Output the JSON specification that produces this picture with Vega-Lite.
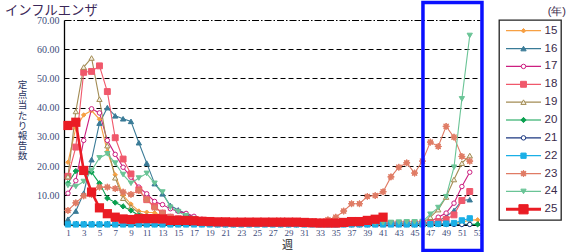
{
"$schema":"https://vega.github.io/schema/vega-lite/v6.json",
"padding":{"left":5,"top":0,"right":0,"bottom":0},
"background":"white",
"bounds":"flush",
"spacing":19,
"config":{"view":{"stroke":null},"axis":{"labelFont":"Liberation Serif","titleFont":"Noto Sans CJK JP","labelOverlap":false},"axisY":{"titleAngle":0},"text":{"font":"Liberation Sans"}},
"datasets":{
"flu":[
{"year":"15","week":1,"rate":21.3},{"year":"15","week":2,"rate":33},{"year":"15","week":3,"rate":37.5},{"year":"15","week":4,"rate":39},{"year":"15","week":5,"rate":36},{"year":"15","week":6,"rate":25},{"year":"15","week":7,"rate":17},{"year":"15","week":8,"rate":10},{"year":"15","week":9,"rate":7},{"year":"15","week":10,"rate":4.6},{"year":"15","week":11,"rate":4.2},{"year":"15","week":12,"rate":4.0},{"year":"15","week":13,"rate":3.0},{"year":"15","week":14,"rate":2.0},{"year":"15","week":15,"rate":1.5},{"year":"15","week":16,"rate":1.0},{"year":"15","week":17,"rate":0.7},{"year":"15","week":18,"rate":0.5},{"year":"15","week":19,"rate":0.4},{"year":"15","week":20,"rate":0.3},{"year":"15","week":21,"rate":0.2},{"year":"15","week":22,"rate":0.2},{"year":"15","week":23,"rate":0.2},{"year":"15","week":24,"rate":0.2},{"year":"15","week":25,"rate":0.2},{"year":"15","week":26,"rate":0.2},{"year":"15","week":27,"rate":0.2},{"year":"15","week":28,"rate":0.2},{"year":"15","week":29,"rate":0.2},{"year":"15","week":30,"rate":0.2},{"year":"15","week":31,"rate":0.2},{"year":"15","week":32,"rate":0.2},{"year":"15","week":33,"rate":0.2},{"year":"15","week":34,"rate":0.2},{"year":"15","week":35,"rate":0.2},{"year":"15","week":36,"rate":0.2},{"year":"15","week":37,"rate":0.2},{"year":"15","week":38,"rate":0.2},{"year":"15","week":39,"rate":0.2},{"year":"15","week":40,"rate":0.2},{"year":"15","week":41,"rate":0.2},{"year":"15","week":42,"rate":0.2},{"year":"15","week":43,"rate":0.2},{"year":"15","week":44,"rate":0.2},{"year":"15","week":45,"rate":0.2},{"year":"15","week":46,"rate":0.2},{"year":"15","week":47,"rate":0.2},{"year":"15","week":48,"rate":0.3},{"year":"15","week":49,"rate":0.3},{"year":"15","week":50,"rate":0.4},{"year":"15","week":51,"rate":0.8},{"year":"15","week":52,"rate":1.5},{"year":"15","week":53,"rate":1.6},
{"year":"16","week":1,"rate":1.8},{"year":"16","week":2,"rate":4.6},{"year":"16","week":3,"rate":10.7},{"year":"16","week":4,"rate":22.2},{"year":"16","week":5,"rate":34.7},{"year":"16","week":6,"rate":40},{"year":"16","week":7,"rate":37.2},{"year":"16","week":8,"rate":36.2},{"year":"16","week":9,"rate":35.3},{"year":"16","week":10,"rate":28},{"year":"16","week":11,"rate":21},{"year":"16","week":12,"rate":14},{"year":"16","week":13,"rate":10.5},{"year":"16","week":14,"rate":6.5},{"year":"16","week":15,"rate":5.0},{"year":"16","week":16,"rate":3.8},{"year":"16","week":17,"rate":2.5},{"year":"16","week":18,"rate":1.6},{"year":"16","week":19,"rate":1.0},{"year":"16","week":20,"rate":0.7},{"year":"16","week":21,"rate":0.5},{"year":"16","week":22,"rate":0.4},{"year":"16","week":23,"rate":0.2},{"year":"16","week":24,"rate":0.2},{"year":"16","week":25,"rate":0.2},{"year":"16","week":26,"rate":0.2},{"year":"16","week":27,"rate":0.2},{"year":"16","week":28,"rate":0.2},{"year":"16","week":29,"rate":0.2},{"year":"16","week":30,"rate":0.2},{"year":"16","week":31,"rate":0.2},{"year":"16","week":32,"rate":0.2},{"year":"16","week":33,"rate":0.2},{"year":"16","week":34,"rate":0.2},{"year":"16","week":35,"rate":0.2},{"year":"16","week":36,"rate":0.2},{"year":"16","week":37,"rate":0.2},{"year":"16","week":38,"rate":0.2},{"year":"16","week":39,"rate":0.2},{"year":"16","week":40,"rate":0.2},{"year":"16","week":41,"rate":0.2},{"year":"16","week":42,"rate":0.2},{"year":"16","week":43,"rate":0.2},{"year":"16","week":44,"rate":0.2},{"year":"16","week":45,"rate":0.2},{"year":"16","week":46,"rate":0.3},{"year":"16","week":47,"rate":0.6},{"year":"16","week":48,"rate":1.2},{"year":"16","week":49,"rate":2.7},{"year":"16","week":50,"rate":4.8},{"year":"16","week":51,"rate":8.2},{"year":"16","week":52,"rate":8.5},
{"year":"17","week":1,"rate":10.7},{"year":"17","week":2,"rate":15},{"year":"17","week":3,"rate":28.8},{"year":"17","week":4,"rate":39.6},{"year":"17","week":5,"rate":38.2},{"year":"17","week":6,"rate":28.8},{"year":"17","week":7,"rate":24},{"year":"17","week":8,"rate":19.6},{"year":"17","week":9,"rate":16.2},{"year":"17","week":10,"rate":12.8},{"year":"17","week":11,"rate":10.5},{"year":"17","week":12,"rate":7.9},{"year":"17","week":13,"rate":6.8},{"year":"17","week":14,"rate":5.4},{"year":"17","week":15,"rate":4.5},{"year":"17","week":16,"rate":3.8},{"year":"17","week":17,"rate":2.8},{"year":"17","week":18,"rate":1.8},{"year":"17","week":19,"rate":1.0},{"year":"17","week":20,"rate":0.7},{"year":"17","week":21,"rate":0.5},{"year":"17","week":22,"rate":0.3},{"year":"17","week":23,"rate":0.3},{"year":"17","week":24,"rate":0.3},{"year":"17","week":25,"rate":0.3},{"year":"17","week":26,"rate":0.3},{"year":"17","week":27,"rate":0.3},{"year":"17","week":28,"rate":0.3},{"year":"17","week":29,"rate":0.3},{"year":"17","week":30,"rate":0.3},{"year":"17","week":31,"rate":0.3},{"year":"17","week":32,"rate":0.3},{"year":"17","week":33,"rate":0.3},{"year":"17","week":34,"rate":0.3},{"year":"17","week":35,"rate":0.3},{"year":"17","week":36,"rate":0.3},{"year":"17","week":37,"rate":0.3},{"year":"17","week":38,"rate":0.3},{"year":"17","week":39,"rate":0.3},{"year":"17","week":40,"rate":0.3},{"year":"17","week":41,"rate":0.3},{"year":"17","week":42,"rate":0.3},{"year":"17","week":43,"rate":0.3},{"year":"17","week":44,"rate":0.3},{"year":"17","week":45,"rate":0.3},{"year":"17","week":46,"rate":0.5},{"year":"17","week":47,"rate":1.0},{"year":"17","week":48,"rate":2.5},{"year":"17","week":49,"rate":3.9},{"year":"17","week":50,"rate":7.3},{"year":"17","week":51,"rate":13},{"year":"17","week":52,"rate":17.9},
{"year":"18","week":1,"rate":16.5},{"year":"18","week":2,"rate":26.5},{"year":"18","week":3,"rate":52.1},{"year":"18","week":4,"rate":52.4},{"year":"18","week":5,"rate":54.3},{"year":"18","week":6,"rate":45.5},{"year":"18","week":7,"rate":29.7},{"year":"18","week":8,"rate":22.4},{"year":"18","week":9,"rate":17.3},{"year":"18","week":10,"rate":11.9},{"year":"18","week":11,"rate":8.5},{"year":"18","week":12,"rate":6.2},{"year":"18","week":13,"rate":3.9},{"year":"18","week":14,"rate":2.5},{"year":"18","week":15,"rate":2.0},{"year":"18","week":16,"rate":1.5},{"year":"18","week":17,"rate":1.0},{"year":"18","week":18,"rate":0.7},{"year":"18","week":19,"rate":0.5},{"year":"18","week":20,"rate":0.3},{"year":"18","week":21,"rate":0.3},{"year":"18","week":22,"rate":0.3},{"year":"18","week":23,"rate":0.3},{"year":"18","week":24,"rate":0.3},{"year":"18","week":25,"rate":0.3},{"year":"18","week":26,"rate":0.3},{"year":"18","week":27,"rate":0.3},{"year":"18","week":28,"rate":0.3},{"year":"18","week":29,"rate":0.3},{"year":"18","week":30,"rate":0.3},{"year":"18","week":31,"rate":0.3},{"year":"18","week":32,"rate":0.3},{"year":"18","week":33,"rate":0.3},{"year":"18","week":34,"rate":0.3},{"year":"18","week":35,"rate":0.3},{"year":"18","week":36,"rate":0.3},{"year":"18","week":37,"rate":0.3},{"year":"18","week":38,"rate":0.3},{"year":"18","week":39,"rate":0.3},{"year":"18","week":40,"rate":0.3},{"year":"18","week":41,"rate":0.3},{"year":"18","week":42,"rate":0.3},{"year":"18","week":43,"rate":0.3},{"year":"18","week":44,"rate":0.3},{"year":"18","week":45,"rate":0.3},{"year":"18","week":46,"rate":0.3},{"year":"18","week":47,"rate":0.5},{"year":"18","week":48,"rate":1.0},{"year":"18","week":49,"rate":1.7},{"year":"18","week":50,"rate":3.3},{"year":"18","week":51,"rate":8.2},{"year":"18","week":52,"rate":11.3},
{"year":"19","week":1,"rate":16.4},{"year":"19","week":2,"rate":38.7},{"year":"19","week":3,"rate":53.9},{"year":"19","week":4,"rate":57},{"year":"19","week":5,"rate":42.9},{"year":"19","week":6,"rate":27},{"year":"19","week":7,"rate":16},{"year":"19","week":8,"rate":9},{"year":"19","week":9,"rate":6},{"year":"19","week":10,"rate":4},{"year":"19","week":11,"rate":3},{"year":"19","week":12,"rate":2.5},{"year":"19","week":13,"rate":2},{"year":"19","week":14,"rate":1.5},{"year":"19","week":15,"rate":1},{"year":"19","week":16,"rate":0.7},{"year":"19","week":17,"rate":0.5},{"year":"19","week":18,"rate":0.3},{"year":"19","week":19,"rate":0.3},{"year":"19","week":20,"rate":0.3},{"year":"19","week":21,"rate":0.3},{"year":"19","week":22,"rate":0.3},{"year":"19","week":23,"rate":0.3},{"year":"19","week":24,"rate":0.3},{"year":"19","week":25,"rate":0.3},{"year":"19","week":26,"rate":0.3},{"year":"19","week":27,"rate":0.3},{"year":"19","week":28,"rate":0.3},{"year":"19","week":29,"rate":0.3},{"year":"19","week":30,"rate":0.3},{"year":"19","week":31,"rate":0.3},{"year":"19","week":32,"rate":0.3},{"year":"19","week":33,"rate":0.3},{"year":"19","week":34,"rate":0.3},{"year":"19","week":35,"rate":0.3},{"year":"19","week":36,"rate":0.3},{"year":"19","week":37,"rate":0.3},{"year":"19","week":38,"rate":0.3},{"year":"19","week":39,"rate":0.3},{"year":"19","week":40,"rate":0.3},{"year":"19","week":41,"rate":0.3},{"year":"19","week":42,"rate":0.3},{"year":"19","week":43,"rate":0.3},{"year":"19","week":44,"rate":0.3},{"year":"19","week":45,"rate":0.3},{"year":"19","week":46,"rate":0.5},{"year":"19","week":47,"rate":2.5},{"year":"19","week":48,"rate":5.1},{"year":"19","week":49,"rate":9.4},{"year":"19","week":50,"rate":15.4},{"year":"19","week":51,"rate":21},{"year":"19","week":52,"rate":23.6},
{"year":"20","week":1,"rate":14.1},{"year":"20","week":2,"rate":18.3},{"year":"20","week":3,"rate":18.5},{"year":"20","week":4,"rate":17.9},{"year":"20","week":5,"rate":14.1},{"year":"20","week":6,"rate":9},{"year":"20","week":7,"rate":7.5},{"year":"20","week":8,"rate":6.2},{"year":"20","week":9,"rate":4.8},{"year":"20","week":10,"rate":3.1},{"year":"20","week":11,"rate":2.5},{"year":"20","week":12,"rate":2.0},{"year":"20","week":13,"rate":1.2},{"year":"20","week":14,"rate":0.8},{"year":"20","week":15,"rate":0.5},{"year":"20","week":16,"rate":0.3},{"year":"20","week":17,"rate":0.05},{"year":"20","week":18,"rate":0.05},{"year":"20","week":19,"rate":0.05},{"year":"20","week":20,"rate":0.05},{"year":"20","week":21,"rate":0.05},{"year":"20","week":22,"rate":0.05},{"year":"20","week":23,"rate":0.05},{"year":"20","week":24,"rate":0.05},{"year":"20","week":25,"rate":0.05},{"year":"20","week":26,"rate":0.05},{"year":"20","week":27,"rate":0.05},{"year":"20","week":28,"rate":0.05},{"year":"20","week":29,"rate":0.05},{"year":"20","week":30,"rate":0.05},{"year":"20","week":31,"rate":0.05},{"year":"20","week":32,"rate":0.05},{"year":"20","week":33,"rate":0.05},{"year":"20","week":34,"rate":0.05},{"year":"20","week":35,"rate":0.05},{"year":"20","week":36,"rate":0.05},{"year":"20","week":37,"rate":0.05},{"year":"20","week":38,"rate":0.05},{"year":"20","week":39,"rate":0.05},{"year":"20","week":40,"rate":0.05},{"year":"20","week":41,"rate":0.05},{"year":"20","week":42,"rate":0.05},{"year":"20","week":43,"rate":0.05},{"year":"20","week":44,"rate":0.05},{"year":"20","week":45,"rate":0.05},{"year":"20","week":46,"rate":0.05},{"year":"20","week":47,"rate":0.05},{"year":"20","week":48,"rate":0.05},{"year":"20","week":49,"rate":0.05},{"year":"20","week":50,"rate":0.05},{"year":"20","week":51,"rate":0.05},{"year":"20","week":52,"rate":0.05},{"year":"20","week":53,"rate":0.05},
{"year":"21","week":1,"rate":0.02},{"year":"21","week":2,"rate":0.02},{"year":"21","week":3,"rate":0.02},{"year":"21","week":4,"rate":0.02},{"year":"21","week":5,"rate":0.02},{"year":"21","week":6,"rate":0.02},{"year":"21","week":7,"rate":0.02},{"year":"21","week":8,"rate":0.02},{"year":"21","week":9,"rate":0.02},{"year":"21","week":10,"rate":0.02},{"year":"21","week":11,"rate":0.02},{"year":"21","week":12,"rate":0.02},{"year":"21","week":13,"rate":0.02},{"year":"21","week":14,"rate":0.02},{"year":"21","week":15,"rate":0.02},{"year":"21","week":16,"rate":0.02},{"year":"21","week":17,"rate":0.02},{"year":"21","week":18,"rate":0.02},{"year":"21","week":19,"rate":0.02},{"year":"21","week":20,"rate":0.02},{"year":"21","week":21,"rate":0.02},{"year":"21","week":22,"rate":0.02},{"year":"21","week":23,"rate":0.02},{"year":"21","week":24,"rate":0.02},{"year":"21","week":25,"rate":0.02},{"year":"21","week":26,"rate":0.02},{"year":"21","week":27,"rate":0.02},{"year":"21","week":28,"rate":0.02},{"year":"21","week":29,"rate":0.02},{"year":"21","week":30,"rate":0.02},{"year":"21","week":31,"rate":0.02},{"year":"21","week":32,"rate":0.02},{"year":"21","week":33,"rate":0.02},{"year":"21","week":34,"rate":0.02},{"year":"21","week":35,"rate":0.02},{"year":"21","week":36,"rate":0.02},{"year":"21","week":37,"rate":0.02},{"year":"21","week":38,"rate":0.02},{"year":"21","week":39,"rate":0.02},{"year":"21","week":40,"rate":0.02},{"year":"21","week":41,"rate":0.02},{"year":"21","week":42,"rate":0.02},{"year":"21","week":43,"rate":0.02},{"year":"21","week":44,"rate":0.02},{"year":"21","week":45,"rate":0.02},{"year":"21","week":46,"rate":0.02},{"year":"21","week":47,"rate":0.02},{"year":"21","week":48,"rate":0.02},{"year":"21","week":49,"rate":0.02},{"year":"21","week":50,"rate":0.02},{"year":"21","week":51,"rate":0.02},{"year":"21","week":52,"rate":0.02},
{"year":"22","week":1,"rate":0.03},{"year":"22","week":2,"rate":0.03},{"year":"22","week":3,"rate":0.03},{"year":"22","week":4,"rate":0.03},{"year":"22","week":5,"rate":0.03},{"year":"22","week":6,"rate":0.03},{"year":"22","week":7,"rate":0.03},{"year":"22","week":8,"rate":0.03},{"year":"22","week":9,"rate":0.03},{"year":"22","week":10,"rate":0.03},{"year":"22","week":11,"rate":0.03},{"year":"22","week":12,"rate":0.03},{"year":"22","week":13,"rate":0.03},{"year":"22","week":14,"rate":0.03},{"year":"22","week":15,"rate":0.03},{"year":"22","week":16,"rate":0.03},{"year":"22","week":17,"rate":0.03},{"year":"22","week":18,"rate":0.03},{"year":"22","week":19,"rate":0.03},{"year":"22","week":20,"rate":0.03},{"year":"22","week":21,"rate":0.03},{"year":"22","week":22,"rate":0.03},{"year":"22","week":23,"rate":0.03},{"year":"22","week":24,"rate":0.03},{"year":"22","week":25,"rate":0.03},{"year":"22","week":26,"rate":0.03},{"year":"22","week":27,"rate":0.03},{"year":"22","week":28,"rate":0.03},{"year":"22","week":29,"rate":0.03},{"year":"22","week":30,"rate":0.03},{"year":"22","week":31,"rate":0.03},{"year":"22","week":32,"rate":0.03},{"year":"22","week":33,"rate":0.03},{"year":"22","week":34,"rate":0.03},{"year":"22","week":35,"rate":0.03},{"year":"22","week":36,"rate":0.03},{"year":"22","week":37,"rate":0.03},{"year":"22","week":38,"rate":0.03},{"year":"22","week":39,"rate":0.03},{"year":"22","week":40,"rate":0.03},{"year":"22","week":41,"rate":0.03},{"year":"22","week":42,"rate":0.03},{"year":"22","week":43,"rate":0.03},{"year":"22","week":44,"rate":0.03},{"year":"22","week":45,"rate":0.03},{"year":"22","week":46,"rate":0.05},{"year":"22","week":47,"rate":0.1},{"year":"22","week":48,"rate":0.2},{"year":"22","week":49,"rate":0.3},{"year":"22","week":50,"rate":0.5},{"year":"22","week":51,"rate":1.4},{"year":"22","week":52,"rate":2.1},
{"year":"23","week":1,"rate":4.8},{"year":"23","week":2,"rate":7.4},{"year":"23","week":3,"rate":9.8},{"year":"23","week":4,"rate":10.2},{"year":"23","week":5,"rate":12.8},{"year":"23","week":6,"rate":12.8},{"year":"23","week":7,"rate":12.3},{"year":"23","week":8,"rate":11.1},{"year":"23","week":9,"rate":10.3},{"year":"23","week":10,"rate":11.6},{"year":"23","week":11,"rate":8.5},{"year":"23","week":12,"rate":5.7},{"year":"23","week":13,"rate":3.9},{"year":"23","week":14,"rate":2.5},{"year":"23","week":15,"rate":2.0},{"year":"23","week":16,"rate":1.5},{"year":"23","week":17,"rate":1.2},{"year":"23","week":18,"rate":1.1},{"year":"23","week":19,"rate":1.1},{"year":"23","week":20,"rate":1.1},{"year":"23","week":21,"rate":1.1},{"year":"23","week":22,"rate":1.1},{"year":"23","week":23,"rate":1.0},{"year":"23","week":24,"rate":1.0},{"year":"23","week":25,"rate":1.0},{"year":"23","week":26,"rate":1.0},{"year":"23","week":27,"rate":1.1},{"year":"23","week":28,"rate":1.2},{"year":"23","week":29,"rate":1.1},{"year":"23","week":30,"rate":1.1},{"year":"23","week":31,"rate":1.0},{"year":"23","week":32,"rate":0.9},{"year":"23","week":33,"rate":0.9},{"year":"23","week":34,"rate":1.6},{"year":"23","week":35,"rate":2.5},{"year":"23","week":36,"rate":4.6},{"year":"23","week":37,"rate":7.1},{"year":"23","week":38,"rate":7.1},{"year":"23","week":39,"rate":9.6},{"year":"23","week":40,"rate":9.9},{"year":"23","week":41,"rate":11.2},{"year":"23","week":42,"rate":16.3},{"year":"23","week":43,"rate":19.6},{"year":"23","week":44,"rate":21.1},{"year":"23","week":45,"rate":17.6},{"year":"23","week":46,"rate":21.7},{"year":"23","week":47,"rate":28.2},{"year":"23","week":48,"rate":26.7},{"year":"23","week":49,"rate":33.6},{"year":"23","week":50,"rate":29.9},{"year":"23","week":51,"rate":23.3},{"year":"23","week":52,"rate":21.7},
{"year":"24","week":1,"rate":13.4},{"year":"24","week":2,"rate":13},{"year":"24","week":3,"rate":14.7},{"year":"24","week":4,"rate":18.5},{"year":"24","week":5,"rate":22.8},{"year":"24","week":6,"rate":24.2},{"year":"24","week":7,"rate":21},{"year":"24","week":8,"rate":17.1},{"year":"24","week":9,"rate":14.1},{"year":"24","week":10,"rate":15.9},{"year":"24","week":11,"rate":17.5},{"year":"24","week":12,"rate":14.1},{"year":"24","week":13,"rate":11.1},{"year":"24","week":14,"rate":5.9},{"year":"24","week":15,"rate":4.4},{"year":"24","week":16,"rate":3.0},{"year":"24","week":17,"rate":2.0},{"year":"24","week":18,"rate":1.3},{"year":"24","week":19,"rate":1.0},{"year":"24","week":20,"rate":0.9},{"year":"24","week":21,"rate":0.8},{"year":"24","week":22,"rate":0.7},{"year":"24","week":23,"rate":0.6},{"year":"24","week":24,"rate":0.6},{"year":"24","week":25,"rate":0.6},{"year":"24","week":26,"rate":0.6},{"year":"24","week":27,"rate":0.6},{"year":"24","week":28,"rate":0.6},{"year":"24","week":29,"rate":0.6},{"year":"24","week":30,"rate":0.6},{"year":"24","week":31,"rate":0.6},{"year":"24","week":32,"rate":0.6},{"year":"24","week":33,"rate":0.6},{"year":"24","week":34,"rate":0.6},{"year":"24","week":35,"rate":0.6},{"year":"24","week":36,"rate":0.6},{"year":"24","week":37,"rate":0.6},{"year":"24","week":38,"rate":0.6},{"year":"24","week":39,"rate":0.6},{"year":"24","week":40,"rate":0.6},{"year":"24","week":41,"rate":0.6},{"year":"24","week":42,"rate":0.7},{"year":"24","week":43,"rate":0.8},{"year":"24","week":44,"rate":0.9},{"year":"24","week":45,"rate":0.9},{"year":"24","week":46,"rate":1.0},{"year":"24","week":47,"rate":3.5},{"year":"24","week":48,"rate":5.8},{"year":"24","week":49,"rate":9.5},{"year":"24","week":50,"rate":19.6},{"year":"24","week":51,"rate":43},{"year":"24","week":52,"rate":64.7},
{"year":"25","week":1,"rate":33.9},{"year":"25","week":2,"rate":35},{"year":"25","week":3,"rate":18.5},{"year":"25","week":4,"rate":11.1},{"year":"25","week":5,"rate":5.7},{"year":"25","week":6,"rate":3.7},{"year":"25","week":7,"rate":2.5},{"year":"25","week":8,"rate":1.9},{"year":"25","week":9,"rate":1.7},{"year":"25","week":10,"rate":2.0},{"year":"25","week":11,"rate":2.0},{"year":"25","week":12,"rate":2.0},{"year":"25","week":13,"rate":1.9},{"year":"25","week":14,"rate":1.4},{"year":"25","week":15,"rate":1.4},{"year":"25","week":16,"rate":1.4},{"year":"25","week":17,"rate":1.3},{"year":"25","week":18,"rate":1.1},{"year":"25","week":19,"rate":1.0},{"year":"25","week":20,"rate":0.9},{"year":"25","week":21,"rate":0.9},{"year":"25","week":22,"rate":0.8},{"year":"25","week":23,"rate":0.8},{"year":"25","week":24,"rate":0.8},{"year":"25","week":25,"rate":0.8},{"year":"25","week":26,"rate":0.8},{"year":"25","week":27,"rate":0.8},{"year":"25","week":28,"rate":0.8},{"year":"25","week":29,"rate":0.8},{"year":"25","week":30,"rate":0.8},{"year":"25","week":31,"rate":0.7},{"year":"25","week":32,"rate":0.6},{"year":"25","week":33,"rate":0.5},{"year":"25","week":34,"rate":0.5},{"year":"25","week":35,"rate":0.5},{"year":"25","week":36,"rate":0.7},{"year":"25","week":37,"rate":1.0},{"year":"25","week":38,"rate":1.0},{"year":"25","week":39,"rate":1.4},{"year":"25","week":40,"rate":1.8},{"year":"25","week":41,"rate":2.5}
],
"years":[{"year":"15"},{"year":"16"},{"year":"17"},{"year":"18"},{"year":"19"},{"year":"20"},{"year":"21"},{"year":"22"},{"year":"23"},{"year":"24"},{"year":"25"}]
},
"hconcat":[
{
"width":416,"height":204.5,
"title":{"text":"インフルエンザ","anchor":"start","frame":"group","dx":-59,"offset":-16.5,"font":"Noto Sans CJK JP","fontSize":13.3,"fontWeight":"normal","color":"#3b2758"},
"data":{"name":"flu"},
"layer":[
{"transform":[{"filter":"datum.year !== '25'"}],
"mark":{"type":"line","strokeWidth":1.1},
"encoding":{
"x":{"field":"week","type":"quantitative","scale":{"domain":[0.5,53.3],"nice":false,"zero":false},
"axis":{"values":[1,2,3,4,5,6,7,8,9,10,11,12,13,14,15,16,17,18,19,20,21,22,23,24,25,26,27,28,29,30,31,32,33,34,35,36,37,38,39,40,41,42,43,44,45,46,47,48,49,50,51,52,53],"tickCount":100,
"labelExpr":"datum.value % 2 === 1 ? format(datum.value, 'd') : ''","labelOverlap":false,"labelFlush":false,"labelBound":false,"grid":false,
"domainColor":"#000","domainWidth":1.3,"tickColor":"#000","tickSize":-4,"tickWidth":1,"labelPadding":8,
"labelFontSize":9,"labelColor":"#3d4c7a",
"title":"週","titleFontSize":11,"titleFontWeight":"normal","titleColor":"#222","titleX":223,"titleY":21,"titleAlign":"center","titleBaseline":"middle"}},
"y":{"field":"rate","type":"quantitative","scale":{"domain":[0,70],"nice":false},
"axis":{"values":[0,10,20,30,40,50,60,70],"tickCount":20,"labelExpr":"datum.value === 0 ? '' : format(datum.value, '.2f')","labelOverlap":false,"labelBound":false,
"grid":true,"gridColor":"#000","gridWidth":1.2,"gridDash":{"condition":{"test":"datum.value === 70","value":[7,2,1.5,2]},"value":[5,3]},
"ticks":false,"domainColor":"#000","domainWidth":1.3,"labelPadding":5,"labelFontSize":10,"labelColor":"#3d4c7a",
"title":["定","点","当","た","り","報","告","数"],"titleAngle":0,"titleX":-42,"titleY":64.5,"titleAlign":"center","titleBaseline":"middle","titleLineHeight":10.2,"titleFontSize":9.5,"titleFontWeight":"normal","titleColor":"#2a3560"}},
"stroke":{"field":"year","type":"nominal","legend":null,"scale":{"domain":["15","16","17","18","19","20","21","22","23","24","25"],"range":["#f7a043","#3a7b97","#cc1f80","#f0586b","#a38c54","#0aa050","#1b3780","#1aafe6","#e07b64","#6ac496","#ea1c24"]}}
}},
{"transform":[{"filter":"datum.year !== '25'"}],
"mark":{"type":"point","filled":true,"strokeWidth":1,"opacity":1},
"encoding":{
"x":{"field":"week","type":"quantitative"},
"y":{"field":"rate","type":"quantitative"},
"shape":{"field":"year","type":"nominal","legend":null,"scale":{"domain":["15","16","17","18","19","20","21","22","23","24","25"],"range":["diamond","triangle-up","circle","square","triangle-up","diamond","circle","square","M0,-1L0.21,-0.51L0.71,-0.71L0.51,-0.21L1,0L0.51,0.21L0.71,0.71L0.21,0.51L0,1L-0.21,0.51L-0.71,0.71L-0.51,0.21L-1,0L-0.51,-0.21L-0.71,-0.71L-0.21,-0.51Z","triangle-down","square"]}},
"fill":{"field":"year","type":"nominal","legend":null,"scale":{"domain":["15","16","17","18","19","20","21","22","23","24","25"],"range":["#f7a043","#3a7b97","#ffffff","#f0586b","#f4f0e4","#0aa050","#ffffff","#1aafe6","#e07b64","#6ac496","#ea1c24"]}},
"stroke":{"field":"year","type":"nominal","legend":null},
"size":{"condition":[{"test":"datum.year === '23'","value":45},{"test":"datum.year === '18'","value":35},{"test":"datum.year === '15' || datum.year === '17' || datum.year === '21'","value":20}],"value":28}
}},
{"transform":[{"filter":"datum.year === '25'"}],
"mark":{"type":"line","strokeWidth":2.6,"color":"#ea1c24"},
"encoding":{"x":{"field":"week","type":"quantitative"},"y":{"field":"rate","type":"quantitative"}}},
{"transform":[{"filter":"datum.year === '25'"}],
"mark":{"type":"point","shape":"square","filled":true,"size":85,"color":"#ea1c24","opacity":1},
"encoding":{"x":{"field":"week","type":"quantitative"},"y":{"field":"rate","type":"quantitative"}}},
{"data":{"values":[{}]},
"mark":{"type":"rect","fillOpacity":0,"stroke":"#0a10ff","strokeWidth":3.5,"clip":false},
"encoding":{"x":{"datum":46.06,"type":"quantitative"},"x2":{"datum":53.55},"y":{"datum":76,"type":"quantitative"},"y2":{"datum":-8.9}}}
]
},
{
"width":62,"height":200,
"view":{"stroke":"#222","strokeWidth":1.3},
"title":{"text":"(年)","anchor":"end","frame":"group","dx":5,"offset":3,"font":"Liberation Sans","fontSize":11,"fontWeight":"normal","color":"#3a2a4a"},
"data":{"name":"years"},
"encoding":{"y":{"field":"year","type":"ordinal","scale":{"type":"point","padding":0.6},"axis":null}},
"layer":[
{"mark":{"type":"rule"},
"encoding":{"x":{"datum":0,"type":"quantitative","scale":{"domain":[-0.2,1.571],"nice":false,"zero":false},"axis":null},"x2":{"datum":1},
"stroke":{"field":"year","type":"nominal","legend":null,"scale":{"domain":["15","16","17","18","19","20","21","22","23","24","25"],"range":["#f7a043","#3a7b97","#cc1f80","#f0586b","#a38c54","#0aa050","#1b3780","#1aafe6","#e07b64","#6ac496","#ea1c24"]}},
"strokeWidth":{"condition":{"test":"datum.year === '25'","value":3},"value":1.2}}},
{"mark":{"type":"point","filled":true,"strokeWidth":1,"opacity":1},
"encoding":{"x":{"datum":0.5,"type":"quantitative"},
"shape":{"field":"year","type":"nominal","legend":null,"scale":{"domain":["15","16","17","18","19","20","21","22","23","24","25"],"range":["diamond","triangle-up","circle","square","triangle-up","diamond","circle","square","M0,-1L0.21,-0.51L0.71,-0.71L0.51,-0.21L1,0L0.51,0.21L0.71,0.71L0.21,0.51L0,1L-0.21,0.51L-0.71,0.71L-0.51,0.21L-1,0L-0.51,-0.21L-0.71,-0.71L-0.21,-0.51Z","triangle-down","square"]}},
"fill":{"field":"year","type":"nominal","legend":null,"scale":{"domain":["15","16","17","18","19","20","21","22","23","24","25"],"range":["#f7a043","#3a7b97","#ffffff","#f0586b","#f4f0e4","#0aa050","#ffffff","#1aafe6","#e07b64","#6ac496","#ea1c24"]}},
"stroke":{"field":"year","type":"nominal","legend":null},
"size":{"condition":[{"test":"datum.year === '25'","value":85},{"test":"datum.year === '23'","value":45},{"test":"datum.year === '18'","value":35},{"test":"datum.year === '15' || datum.year === '17' || datum.year === '21'","value":20}],"value":28}}},
{"mark":{"type":"text","align":"left","baseline":"middle","fontSize":11.5,"font":"Liberation Sans","color":"#3a2a4a"},
"encoding":{"x":{"datum":1.1,"type":"quantitative"},"text":{"field":"year"}}}
]
}
]
}
